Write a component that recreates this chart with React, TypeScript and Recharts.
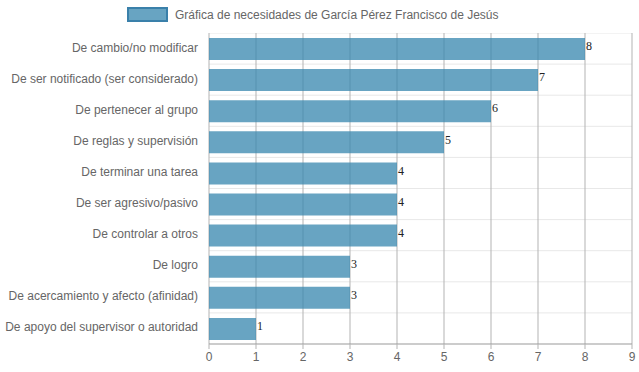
import React from 'react';
import { BarChart, Bar, XAxis, YAxis, CartesianGrid, LabelList } from 'recharts';

const categories = [
  'De cambio/no modificar',
  'De ser notificado (ser considerado)',
  'De pertenecer al grupo',
  'De reglas y supervisión',
  'De terminar una tarea',
  'De ser agresivo/pasivo',
  'De controlar a otros',
  'De logro',
  'De acercamiento y afecto (afinidad)',
  'De apoyo del supervisor o autoridad',
];
const values = [8, 7, 6, 5, 4, 4, 4, 3, 3, 1];
const xTicks = [0, 1, 2, 3, 4, 5, 6, 7, 8, 9];
const seriesName = 'Gráfica de necesidades de García Pérez Francisco de Jesús';

const data = categories.map((c, i) => ({ name: c, value: values[i] }));

const FONT = '"Liberation Sans", Arial, Helvetica, sans-serif';

const YTick = (props: any) => {
  const { x, y, payload } = props;
  return (
    <text x={x} y={y} dy={3} textAnchor="end" fill="#666" fontSize={12} fontFamily={FONT}>
      {payload.value}
    </text>
  );
};

export default function App() {
  return (
    <div style={{ position: 'absolute', left: 0, top: 0, width: 639, height: 372, background: '#fff' }}>
      <div style={{ height: 33, display: 'flex', justifyContent: 'flex-start', alignItems: 'flex-start' }}>
        <div style={{ display: 'flex', alignItems: 'center', marginTop: 7, marginLeft: 127 }}>
          <div
            style={{
              width: 37,
              height: 11,
              background: 'rgba(54,134,174,0.75)',
              border: '2px solid #3a80aa',
              marginRight: 7,
            }}
          />
          <span style={{ fontFamily: FONT, fontSize: 12, color: '#666' }}>{seriesName}</span>
        </div>
      </div>
      <BarChart
        width={639}
        height={339}
        data={data}
        layout="vertical"
        margin={{ top: 0, right: 7, left: 0, bottom: 0 }}
        barCategoryGap={4}
      >
        <CartesianGrid
          stroke="#e8e8e8"
          vertical={false}
          horizontalCoordinatesGenerator={({ offset }: any) =>
            categories.map((_, i) => offset.top + (i * offset.height) / categories.length)
          }
        />
        <CartesianGrid stroke="#b3b3b3" horizontal={false} />
        <XAxis
          type="number"
          domain={[0, 9]}
          ticks={xTicks}
          interval={0}
          height={28}
          tickSize={5}
          tickMargin={3}
          stroke="#999"
          tickLine={{ stroke: '#b3b3b3' }}
          tick={{ fill: '#666', fontSize: 12, fontFamily: FONT }}
        />
        <YAxis
          type="category"
          dataKey="name"
          width={209}
          axisLine={false}
          tickLine={false}
          tickSize={0}
          tickMargin={11}
          interval={0}
          tick={<YTick />}
        />
        <Bar dataKey="value" fill="rgb(54,134,174)" fillOpacity={0.75} barSize={22} isAnimationActive={false}>
          <LabelList
            dataKey="value"
            position="right"
            offset={1}
            dy={-3}
            style={{ fill: '#222', fontSize: 12, fontFamily: '"Liberation Serif", "Times New Roman", serif' }}
          />
        </Bar>
      </BarChart>
    </div>
  );
}
